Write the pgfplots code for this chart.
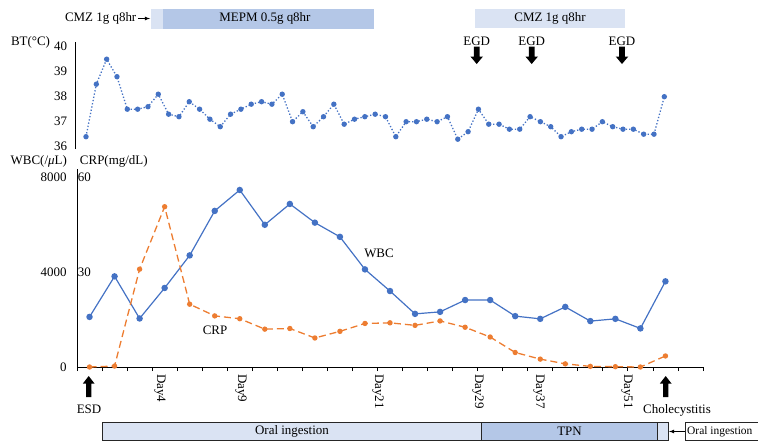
\documentclass[border=0pt]{standalone}
\usepackage{pgfplots}
\pgfplotsset{compat=1.18}
\usepackage{fontspec}
\setmainfont{Liberation Serif}
\definecolor{wbcblue}{HTML}{4472C4}
\definecolor{crporange}{HTML}{ED7D31}
\definecolor{barlight}{HTML}{DAE3F3}
\definecolor{barmid}{HTML}{B4C7E7}

\begin{document}
\fontsize{13}{15}\selectfont
\begin{tikzpicture}[font=\fontsize{13}{15}\selectfont]
\useasboundingbox (0,0) rectangle (758bp,-442bp);
\clip (0,0) rectangle (758bp,-442bp);
\pgfplotsset{every axis/.append style={font=\fontsize{13}{15}\selectfont,
  /pgf/number format/assume math mode=true, /pgf/number format/1000 sep={},
  scale only axis, width=626bp, clip=false}}

% ---------------- BT panel ----------------
\begin{axis}[at={(75.7bp,-149.2bp)}, anchor=south west, height=107.5bp,
  xmin=-0.997, xmax=59.62, ymin=35.9, ymax=40.2,
  axis x line=none, axis y line=left, axis line style={-, black, line width=1bp},
  ytick={36,37,38,39,40}, ytick style={draw=none}, yticklabel style={xshift=-2bp}]
\addplot[wbcblue, line width=1.3bp, dotted, mark=*, mark size=2bp, mark options={solid}] coordinates {
(0,36.4) (1,38.5) (2,39.5) (3,38.8) (4,37.5) (5,37.5) (6,37.6) (7,38.1) (8,37.3) (9,37.2)
(10,37.8) (11,37.5) (12,37.1) (13,36.8) (14,37.3) (15,37.5) (16,37.7) (17,37.8) (18,37.7) (19,38.1)
(20,37.0) (21,37.4) (22,36.8) (23,37.2) (24,37.7) (25,36.9) (26,37.1) (27,37.2) (28,37.3) (29,37.2)
(30,36.4) (31,37.0) (32,37.0) (33,37.1) (34,37.0) (35,37.2) (36,36.3) (37,36.6) (38,37.5) (39,36.9)
(40,36.9) (41,36.7) (42,36.7) (43,37.2) (44,37.0) (45,36.8) (46,36.4) (47,36.6) (48,36.7) (49,36.7)
(50,37.0) (51,36.8) (52,36.7) (53,36.7) (54,36.5) (55,36.5) (56,38.0)};
\end{axis}

% ---------------- WBC panel ----------------
\begin{axis}[at={(77bp,-367bp)}, anchor=south west, height=197.6bp,
  xmin=-0.5, xmax=24.5, ymin=0, ymax=8350,
  axis x line=bottom, axis y line=left, axis line style={-, black, line width=1bp},
  xtick={-0.5,0.5,...,24.5}, xticklabel style={opacity=0}, tick align=outside, major tick length=4bp,
  xtick style={black, line width=0.8bp},
  ytick={0,4000,8000}, ytick style={draw=none}, yticklabel style={xshift=-2bp}]
\addplot[wbcblue, line width=1.2bp, mark=*, mark size=2.6bp] coordinates {
(0,2117) (1,3830) (2,2050) (3,3340) (4,4716) (5,6597) (6,7480) (7,6010) (8,6890) (9,6100)
(10,5500) (11,4125) (12,3210) (13,2245) (14,2330) (15,2830) (16,2830) (17,2150) (18,2035) (19,2540)
(20,1940) (21,2035) (22,1630) (23,3620)};
\end{axis}

% ---------------- CRP overlay ----------------
\begin{axis}[at={(77bp,-367bp)}, anchor=south west, height=197.6bp,
  xmin=-0.5, xmax=24.5, ymin=0, ymax=62.625,
  axis x line=none, axis y line=left, y axis line style={draw=none},
  ytick={30,60}, ytick style={draw=none}, yticklabel style={anchor=west, xshift=-1.5bp}]
\addplot[crporange, line width=1.3bp, dash pattern=on 7bp off 4bp, mark=*, mark size=2bp, mark options={solid}] coordinates {
(0,0) (1,0.3) (2,31) (3,50.8) (4,19.9) (5,16.2) (6,15.3) (7,12) (8,12.2) (9,9.2)
(10,11.3) (11,13.8) (12,14) (13,13.2) (14,14.6) (15,12.6) (16,9.5) (17,4.6) (18,2.5) (19,1.0)
(20,0.2) (21,0.1) (22,0) (23,3.5)};
\end{axis}

% ---------------- annotations ----------------
\begin{scope}[x=1bp, y=-1bp]
\node[anchor=east, inner sep=0] at (136.5,18.5) {CMZ 1g q8hr};
\draw[-latex, line width=0.8bp] (138,18.5) -- (150,18.5);
\fill[barlight] (151,9) rectangle (163,28.5);
\fill[barmid] (163,9) rectangle (374,28.5);
\node at (265,18.5) {MEPM 0.5g q8hr};
\fill[barlight] (475,9) rectangle (625,27.5);
\node at (550,18.5) {CMZ 1g q8hr};

\foreach \x in {476.7,531.7,622} {
  \node at (\x,41.5) {EGD};
  \fill ({\x-2.8},46.7) -- ({\x+2.8},46.7) -- ({\x+2.8},56.5) -- ({\x+6.3},56.5) -- (\x,64) -- ({\x-6.3},56.5) -- ({\x-2.8},56.5) -- cycle;
}

\node at (30.5,42.7) {BT(°C)};
\node at (38.8,161) {WBC(/\textit{μ}L)};
\node at (113.8,161) {CRP(mg/dL)};
\node at (379,253) {WBC};
\node at (215,330) {CRP};

\foreach \x/\t in {160/Day4, 241/Day9, 378/Day21, 478/Day29, 539/Day37, 627/Day51} {
  \node[rotate=-90, anchor=west, inner sep=0] at (\x,374) {\t};
}

\foreach \x in {88.7,665.7} {
  \fill ({\x-2.6},397) -- ({\x+2.6},397) -- ({\x+2.6},383.5) -- ({\x+5.8},383.5) -- (\x,376) -- ({\x-5.8},383.5) -- ({\x-2.6},383.5) -- cycle;
}
\node at (89,409) {ESD};
\node at (677,410) {Cholecystitis};

\filldraw[fill=barlight, draw=black!85, line width=0.8bp] (102.7,422.5) rectangle (481.7,440.8);
\node at (292,431.5) {Oral ingestion};
\filldraw[fill=barmid, draw=black!85, line width=0.8bp] (481.7,422.5) rectangle (657.3,440.8);
\node at (569.5,431.5) {TPN};
\filldraw[fill=barlight, draw=black!85, line width=0.8bp] (657.3,422.5) rectangle (668.3,440.8);
\draw[-latex, line width=0.8bp] (685,431.5) -- (669,431.5);
\filldraw[fill=white, draw=black!85, line width=0.8bp] (685,422.5) rectangle (790,440.8);
\node[anchor=west, inner sep=0pt, font=\fontsize{11.5}{13}\selectfont] at (687,431.5) {Oral ingestion};
\end{scope}
\end{tikzpicture}
\end{document}
